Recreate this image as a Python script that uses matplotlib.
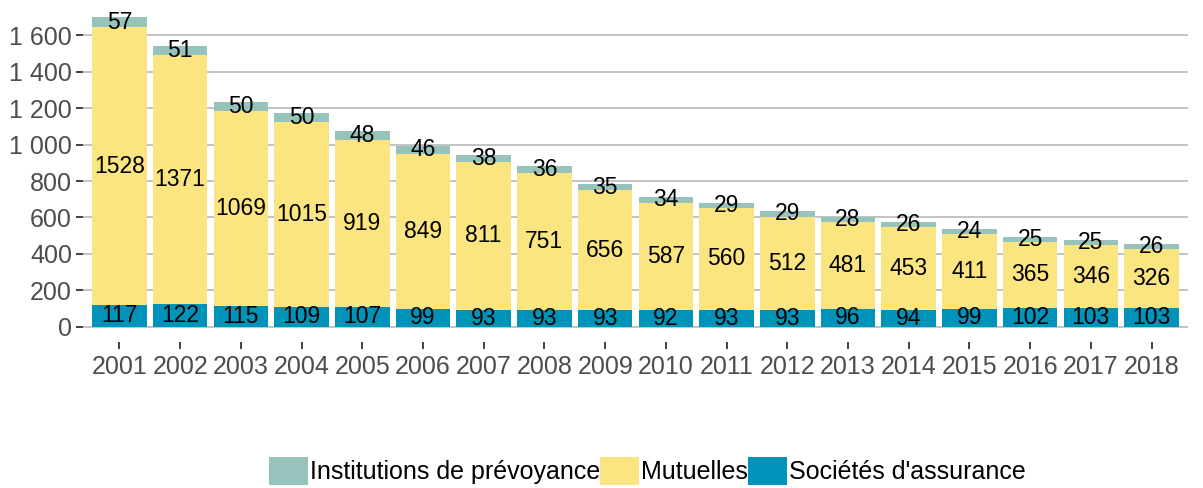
import numpy as np
import matplotlib
matplotlib.use("Agg")
import matplotlib.pyplot as plt

plt.rcParams["font.family"] = ["Liberation Sans", "DejaVu Sans"]

years = [str(y) for y in range(2001, 2019)]
societes = [117, 122, 115, 109, 107, 99, 93, 93, 93, 92, 93, 93, 96, 94, 99, 102, 103, 103]
mutuelles = [1528, 1371, 1069, 1015, 919, 849, 811, 751, 656, 587, 560, 512, 481, 453, 411, 365, 346, 326]
institutions = [57, 51, 50, 50, 48, 46, 38, 36, 35, 34, 29, 29, 28, 26, 24, 25, 25, 26]
yticks = [0, 200, 400, 600, 800, 1000, 1200, 1400, 1600]

c_inst = "#96C4BD"
c_mut = "#FAE580"
c_soc = "#0093B9"

fig = plt.figure(figsize=(12.03, 4.88), dpi=100)
ax = fig.add_axes([0.069, 0.299, 0.9185, 0.701])

x = np.arange(1, len(years) + 1)
soc = np.array(societes)
mut = np.array(mutuelles)
inst = np.array(institutions)

b1 = ax.bar(x, soc, width=0.9, color=c_soc, label="Sociétés d'assurance", zorder=2)
b2 = ax.bar(x, mut, width=0.9, bottom=soc, color=c_mut, label="Mutuelles", zorder=2)
b3 = ax.bar(x, inst, width=0.9, bottom=soc + mut, color=c_inst, label="Institutions de prévoyance", zorder=2)

# labels centred in each segment
for i in range(len(x)):
    ax.text(x[i], soc[i] / 2, str(soc[i]), ha="center", va="center", fontsize=16.5, zorder=3)
    ax.text(x[i], soc[i] + mut[i] / 2, str(mut[i]), ha="center", va="center", fontsize=16.5, zorder=3)
    ax.text(x[i], soc[i] + mut[i] + inst[i] / 2, str(inst[i]), ha="center", va="center", fontsize=16.5, zorder=3)

ax.set_xlim(0.4, len(years) + 0.6)
ax.set_ylim(-85, 1795)
ax.set_xticks(x)
ax.set_xticklabels(years)
ax.set_yticks(yticks)
ax.set_yticklabels([f"{v:,}".replace(",", " ") for v in yticks])
ax.yaxis.grid(True, color="#BEBEBE", linewidth=1.3, zorder=0)
ax.set_axisbelow(True)
for s in ax.spines.values():
    s.set_visible(False)
ax.tick_params(axis="both", colors="#333333", labelcolor="#4D4D4D", labelsize=18, length=5, width=1.3)
ax.tick_params(axis="y", pad=3)
ax.tick_params(axis="x", pad=4)

handles = [b3, b2, b1]
fig.legend(handles, [h.get_label() for h in handles], loc="center", bbox_to_anchor=(0.538, 0.035),
           ncol=3, frameon=False, fontsize=18, handlelength=1.55, handleheight=1.3,
           handletextpad=0.08, columnspacing=0.0, borderaxespad=0)

fig.savefig("out.png", dpi=100)
